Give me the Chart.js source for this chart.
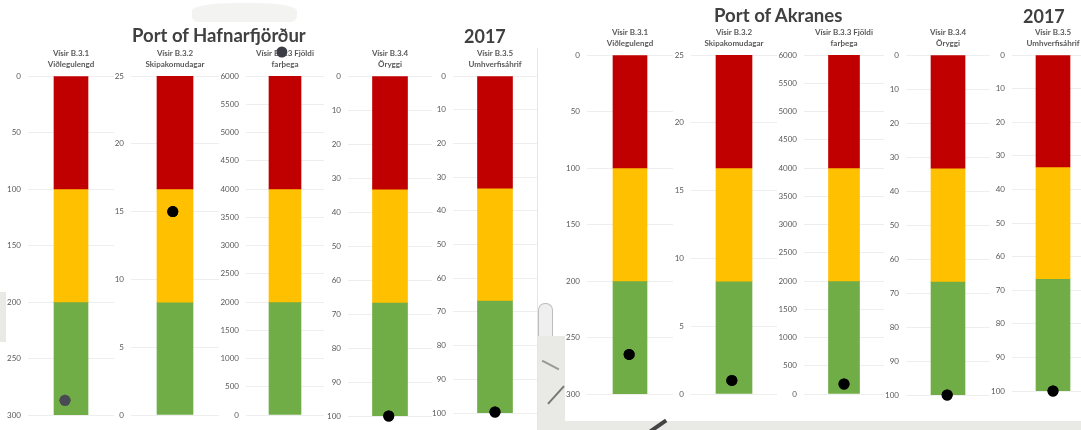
<!DOCTYPE html>
<html>
<head>
<meta charset="utf-8">
<script src="https://cdn.jsdelivr.net/npm/chart.js@4/dist/chart.umd.min.js"></script>
<style>
  html, body { margin: 0; padding: 0; background: #fff; overflow: hidden; }
  #page { position: relative; width: 1081px; height: 430px; overflow: hidden; filter: blur(0.35px); }
  canvas { position: absolute; }
  .heading { position: absolute; font-family: Lato, sans-serif; font-weight: 700; color: #404040; white-space: nowrap; line-height: 1; }
  .map { position: absolute; background: #e9e9e6; }
</style>
</head>
<body>
<div id="page">
  <!-- bits of the map showing behind the pasted charts -->
  <div class="map" style="left:537px;top:48px;width:1px;height:382px;background:#e6e6e6"></div>
  <div class="map" style="left:538px;top:303px;width:13px;height:34px;border:1px solid #bdbdbd;border-bottom:0;background:#efefef;border-radius:7px 7px 0 0"></div>
  <div class="map" style="left:538px;top:336px;width:27px;height:94px"></div>
  <div class="map" style="left:541px;top:364px;width:19px;height:2px;background:#999;transform:rotate(28deg)"></div>
  <div class="map" style="left:544px;top:394px;width:24px;height:2px;background:#777;transform:rotate(-48deg)"></div>
  <div class="map" style="left:565px;top:421px;width:516px;height:9px"></div>
  <div class="map" style="left:648px;top:424px;width:20px;height:4px;background:#444;transform:rotate(-35deg)"></div>
  <div class="map" style="left:0;top:292px;width:6px;height:50px"></div>
  <div class="map" style="left:192px;top:3px;width:105px;height:19px;background:#f3f3f1;border-radius:40% 40% 6px 6px"></div>
  <div class="heading" style="left:132px;top:26px;font-size:18.5px">Port of Hafnarfjörður</div>
  <div class="heading" style="left:464px;top:27px;font-size:18px">2017</div>
  <div class="heading" style="left:714px;top:6px;font-size:18.6px">Port of Akranes</div>
  <div class="heading" style="left:1023px;top:7px;font-size:18px">2017</div>
</div>
<script>
// one entry per small chart, left group then right group
const titles = [
  ['Vísir B.3.1', 'Viðlegulengd'],
  ['Vísir B.3.2', 'Skipakomudagar'],
  ['Vísir B.3.3 Fjöldi', 'farþega'],
  ['Vísir B.3.4', 'Öryggi'],
  ['Vísir B.3.5', 'Umhverfisáhrif'],
  ['Vísir B.3.1', 'Viðlegulengd'],
  ['Vísir B.3.2', 'Skipakomudagar'],
  ['Vísir B.3.3 Fjöldi', 'farþega'],
  ['Vísir B.3.4', 'Öryggi'],
  ['Vísir B.3.5', 'Umhverfisáhrif']
];
const axisMax = [300, 25, 6000, 100, 100, 300, 25, 6000, 100, 100];
const axisStep = [50, 5, 500, 10, 10, 50, 5, 500, 10, 10];
const axisReversed = [true, false, false, true, true, true, false, false, true, true];

const redBand = [[0, 100], [16.67, 25], [4000, 6000], [0, 33.3], [0, 33.3], [0, 100], [16.67, 25], [4000, 6000], [0, 33.3], [0, 33.3]];
const yellowBand = [[100, 200], [8.33, 16.67], [2000, 4000], [33.3, 66.6], [33.3, 66.6], [100, 200], [8.33, 16.67], [2000, 4000], [33.3, 66.6], [33.3, 66.6]];
const greenBand = [[200, 300], [0, 8.33], [0, 2000], [66.6, 100], [66.6, 100], [200, 300], [0, 8.33], [0, 2000], [66.6, 100], [66.6, 100]];

const dotValues = [287, 15, 6425, 100, 99.7, 265, 1, 177, 100, 100];
const dotOffsets = [-0.14, -0.05, -0.08, -0.03, 0, -0.02, -0.05, 0, -0.02, 0];
const dotColors = ['#4a4a55', '#000', '#3c3c46', '#000', '#000', '#000', '#000', '#000', '#000', '#000'];

// placement on the page
const barCenter = [71, 175, 285, 389.5, 494.5, 630, 734, 843.5, 948, 1053];
const barWidth = [34, 36, 32, 35, 35, 34, 36, 31, 34, 34];
const gridHalf = [43, 44, 39, 42, 42, 43, 43, 40, 42, 41];
const plotTop = [76, 76, 76, 76, 76, 55, 55, 55, 55, 55];
const plotBottom = [415, 415, 415, 416, 413, 394, 394, 394, 395, 391];

const labelWidth = 30;
const titleHeight = 34;
const bottomRoom = 14;
const page = document.getElementById('page');

// point elements skip themselves outside the chart area, the B.3.3 dot sits above it
const drawDot = {
  id: 'drawDot',
  afterDatasetsDraw(chart) {
    chart.getDatasetMeta(0).data[0].draw(chart.ctx);
  }
};

titles.forEach((title, i) => {
  const canvas = document.createElement('canvas');
  const left = Math.round(barCenter[i] - gridHalf[i] - labelWidth);
  const right = Math.round(barCenter[i] + gridHalf[i]);
  canvas.width = right - left;
  canvas.height = plotBottom[i] - plotTop[i] + titleHeight + bottomRoom;
  canvas.style.left = left + 'px';
  canvas.style.top = (plotTop[i] - titleHeight) + 'px';
  page.appendChild(canvas);

  new Chart(canvas, {
    type: 'bar',
    plugins: [drawDot],
    data: {
      datasets: [
        { type: 'line', data: [{ x: dotOffsets[i], y: dotValues[i] }], showLine: false, pointRadius: 5.5, pointBackgroundColor: dotColors[i], pointBorderWidth: 0, clip: false, order: 0 },
        { data: [{ x: 0, y: redBand[i] }], backgroundColor: '#c00000', order: 1 },
        { data: [{ x: 0, y: yellowBand[i] }], backgroundColor: '#ffc000', order: 1 },
        { data: [{ x: 0, y: greenBand[i] }], backgroundColor: '#70ad47', order: 1 }
      ]
    },
    options: {
      responsive: false,
      animation: false,
      devicePixelRatio: 1,
      grouped: false,
      barThickness: barWidth[i],
      layout: { autoPadding: false, padding: { bottom: bottomRoom, top: 0, left: 0, right: 0 } },
      plugins: {
        legend: { display: false },
        tooltip: { enabled: false },
        title: {
          display: true,
          text: title,
          fullSize: false,
          color: '#595959',
          font: { family: 'Lato', size: 8, lineHeight: '11px' },
          padding: { top: 6, bottom: 6 }
        }
      },
      scales: {
        x: { type: 'linear', display: false, min: -1, max: 1, offset: false },
        y: {
          min: 0,
          max: axisMax[i],
          reverse: axisReversed[i],
          afterFit: scale => { scale.width = labelWidth; },
          grid: { color: '#eeeeee', drawTicks: false },
          border: { display: false },
          ticks: { stepSize: axisStep[i], padding: 7, color: '#595959', font: { family: 'Lato', size: 8 }, format: { useGrouping: false } }
        }
      }
    }
  });
});
</script>
</body>
</html>
